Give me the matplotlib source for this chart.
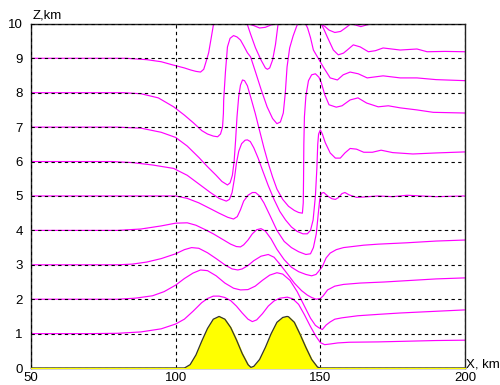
import matplotlib
matplotlib.use("Agg")
import matplotlib.pyplot as plt

plt.rcParams['font.family'] = ['Liberation Sans', 'DejaVu Sans']

# terrain: two ridges
hill_x = [50, 100, 103, 105, 107, 109, 111, 113, 115, 117, 119, 121, 123, 125, 126,
          127, 129, 131, 133, 135, 137, 138.5, 139, 141, 143, 145, 147, 149, 150, 200]
hill_z = [0, 0, 0.0, 0.1, 0.38, 0.78, 1.15, 1.42, 1.5, 1.42, 1.18, 0.82, 0.42, 0.1, 0.02,
          0.05, 0.25, 0.6, 1.0, 1.33, 1.47, 1.5, 1.49, 1.33, 0.98, 0.6, 0.25, 0.03, 0, 0]

# streamlines (x in km, z in km)
line1_x = [50, 70, 80, 88, 95, 100, 103, 106, 109, 111, 113, 115, 117, 119, 121, 123, 125,
           126.5, 128, 130, 132, 134, 136, 138.6, 140.5, 142.5, 144.5, 146.5, 148.5, 150,
           151.5, 153.5, 156, 160, 170, 180, 190, 200]
line1_z = [1.0, 1.0, 1.01, 1.05, 1.14, 1.28, 1.42, 1.65, 1.9, 2.02, 2.09, 2.09, 2.05, 1.96,
           1.8, 1.6, 1.42, 1.35, 1.4, 1.58, 1.8, 1.95, 2.03, 2.06, 2.01, 1.85, 1.55, 1.22,
           0.92, 0.74, 0.68, 0.7, 0.73, 0.75, 0.76, 0.78, 0.8, 0.81]

line2_x = [50, 80, 86, 92, 96, 100, 103, 106, 108.6, 111, 114, 117, 120, 122.4, 125, 127.5,
           130, 132.5, 135, 137, 139.5, 142, 144.5, 146.6, 148.3, 149.5, 150.7, 152, 153.4,
           155, 157.5, 163, 170, 177.6, 190, 200]
line2_z = [2.0, 2.0, 2.03, 2.1, 2.22, 2.41, 2.6, 2.76, 2.85, 2.83, 2.68, 2.47, 2.32, 2.27,
           2.28, 2.38, 2.55, 2.7, 2.77, 2.73, 2.55, 2.22, 1.8, 1.45, 1.24, 1.17, 1.12, 1.25,
           1.34, 1.42, 1.46, 1.52, 1.56, 1.6, 1.65, 1.69]

line3_x = [50, 80, 85, 90, 95, 100, 103, 105.5, 108, 111, 114, 117, 119.5, 121.5, 123, 125,
           127, 129.5, 132, 134, 136, 138.5, 141, 143.5, 145.5, 147, 148.5, 150, 151, 152.5,
           155, 158, 163.8, 172, 182, 190, 200]
line3_z = [3.0, 3.0, 3.02, 3.08, 3.18, 3.32, 3.44, 3.5, 3.48, 3.35, 3.18, 3.0, 2.88, 2.85,
           2.88, 2.98, 3.12, 3.25, 3.3, 3.22, 3.02, 2.75, 2.47, 2.25, 2.12, 2.05, 2.0, 2.02,
           2.1, 2.27, 2.38, 2.43, 2.47, 2.5, 2.55, 2.59, 2.62]

line4_x = [50, 80, 88, 95, 100, 104, 107, 110, 113, 116, 119, 121, 122.4, 123.5, 125, 126.5,
           128, 129.5, 131, 133, 135, 137.5, 140, 142.5, 145, 147, 148.5, 149.5, 150.7, 152,
           153.4, 155.5, 158, 161, 165, 170, 175, 180, 190, 200]
line4_z = [4.0, 4.0, 4.04, 4.13, 4.21, 4.22, 4.15, 4.03, 3.9, 3.75, 3.6, 3.53, 3.52, 3.58,
           3.72, 3.9, 4.02, 4.05, 3.98, 3.75, 3.45, 3.15, 2.93, 2.8, 2.72, 2.68, 2.72, 2.82,
           2.95, 3.2, 3.34, 3.44, 3.5, 3.53, 3.57, 3.6, 3.62, 3.64, 3.69, 3.72]

line5_x = [50, 100, 104, 108, 112, 115, 118, 120, 121.3, 122.4, 123.5, 125, 126.5, 127.6,
           129, 130.5, 132.5, 135, 137.5, 140, 142.5, 145, 146.6, 147.6, 148.6, 149.3, 149.8,
           150.4, 151.2, 152.5, 154, 155.2, 156.2, 157.5, 158.5, 160, 162.5, 165, 170, 175,
           180, 185, 190, 200]
line5_z = [5.0, 5.0, 4.93, 4.8, 4.63, 4.5, 4.38, 4.33, 4.4, 4.6, 4.85, 5.02, 5.1, 5.1, 5.0,
           4.8, 4.45, 4.0, 3.68, 3.5, 3.38, 3.3, 3.32, 3.5, 3.9, 4.5, 4.9, 5.08, 5.1, 5.0,
           4.92, 4.9, 4.95, 5.07, 5.1, 5.03, 4.96, 4.97, 5.0, 4.98, 5.02, 5.0, 4.98, 5.0]

line6_x = [50, 78, 85, 92, 99.3, 104, 108, 112, 115, 117.5, 118.6, 119.5, 120.3, 121, 121.8,
           122.8, 124, 124.8, 125.8, 127, 128.5, 130, 132, 134, 136, 138, 140, 142, 144,
           145.5, 146.6, 147.5, 148.3, 148.8, 149.1, 149.4, 150, 150.7, 151.7, 153.4, 155.2,
           156.9, 158.5, 160.3, 162.5, 165, 168, 171, 175, 182, 190, 200]
line6_z = [6.0, 6.0, 5.97, 5.9, 5.8, 5.6, 5.35, 5.1, 4.93, 4.85, 4.9, 5.1, 5.5, 5.95, 6.3,
           6.52, 6.62, 6.63, 6.58, 6.4, 6.1, 5.75, 5.3, 4.9, 4.55, 4.3, 4.1, 3.97, 3.9, 3.9,
           4.0, 4.3, 5.0, 5.8, 6.5, 6.8, 6.92, 6.8, 6.55, 6.25, 6.1, 6.1, 6.25, 6.38, 6.36,
           6.27, 6.27, 6.33, 6.26, 6.22, 6.25, 6.28]

line7_x = [50, 80, 88, 95, 100, 104, 108, 111, 114, 116, 117.9, 118.8, 119.6, 120.2, 120.7,
           121.2, 121.8, 122.4, 123.1, 123.8, 124.8, 126, 127.5, 129, 130.5, 132, 133.5, 135,
           137, 139, 141, 142.5, 143.8, 144.1, 144.2, 144.3, 144.5, 145, 145.9, 147, 148.3,
           149.5, 150.3, 151.5, 153, 155.5, 157.5, 160.3, 163, 166, 170, 173.5, 177.6, 183.4,
           189, 200]
line7_z = [7.0, 7.0, 6.97, 6.85, 6.7, 6.45, 6.12, 5.85, 5.6, 5.42, 5.32, 5.38, 5.6, 6.0, 6.6,
           7.3, 7.9, 8.22, 8.37, 8.35, 8.2, 7.85, 7.4, 6.9, 6.4, 5.95, 5.55, 5.2, 4.9, 4.7,
           4.58, 4.52, 4.5, 4.8, 5.5, 6.5, 7.3, 7.9, 8.35, 8.52, 8.55, 8.45, 8.3, 7.95, 7.65,
           7.58, 7.62, 7.79, 7.85, 7.7, 7.59, 7.62, 7.56, 7.5, 7.43, 7.41]

line8_x = [50, 82, 88, 94, 99.3, 103, 106.2, 109, 111, 113, 114.5, 115.5, 116.2, 116.5, 116.6,
           117.2, 117.9, 118.8, 120, 121.2, 122.4, 123.6, 124.8, 125.9, 127.6, 129.5, 131.6,
           133.5, 135, 136.2, 137.2, 137.9, 138.5, 139.4, 140.6, 141.9, 143.3, 144.6, 145.6,
           146.6, 147.6, 149.0, 151.0, 153.4, 155.9, 157.9, 160.3, 163.1, 166.2, 171.7, 177.6,
           183.4, 190, 200]
line8_z = [8.0, 8.0, 7.97, 7.85, 7.59, 7.35, 7.12, 6.9, 6.8, 6.74, 6.72, 6.8, 7.0, 7.4, 7.8,
           8.6, 9.33, 9.58, 9.66, 9.62, 9.53, 9.35, 9.16, 9.04, 8.6, 8.1, 7.59, 7.25, 7.1,
           7.15, 7.41, 8.0, 8.75, 9.3, 9.65, 9.95, 10.12, 10.05, 9.88, 9.6, 9.24, 9.04, 8.75,
           8.43, 8.37, 8.52, 8.6, 8.55, 8.43, 8.49, 8.43, 8.43, 8.38, 8.35]

line9_x = [50, 70, 83, 90, 95, 99.3, 103, 105.2, 107, 108.6, 109.7, 110.5, 111.4, 112.3, 113.1,
           113.8, 118, 122, 124.5, 125.9, 127.6, 129.5, 131, 131.7, 132.5, 133.5, 134.5, 135.4,
           136.5, 142, 148, 150.3, 151.2, 152.4, 154.5, 156.2, 158, 159.3, 161.4, 163.8, 166.6,
           169, 171.7, 177.6, 183.4, 186.9, 193, 200]
line9_z = [9.0, 9.0, 9.0, 8.96, 8.9, 8.8, 8.72, 8.66, 8.62, 8.6, 8.68, 8.9, 9.16, 9.6, 10.0,
           10.3, 10.7, 10.5, 10.05, 9.7, 9.3, 8.95, 8.72, 8.68, 8.72, 8.95, 9.4, 10.0, 10.5,
           10.9, 10.6, 10.0, 9.85, 9.62, 9.24, 9.1, 9.15, 9.24, 9.39, 9.33, 9.19, 9.22, 9.3,
           9.24, 9.27, 9.19, 9.2, 9.19]

line10_x = [50, 125, 127, 129, 131, 133, 135, 150, 151.5, 153, 155, 157, 159, 160.5, 162, 164,
            166, 168, 200]
line10_z = [10.0, 10.0, 9.95, 9.88, 9.9, 9.97, 10.0, 10.0, 9.93, 9.82, 9.75, 9.78, 9.9, 10.0,
            9.97, 9.92, 9.97, 10.0, 10.0]

lines = [(line1_x, line1_z), (line2_x, line2_z), (line3_x, line3_z), (line4_x, line4_z),
         (line5_x, line5_z), (line6_x, line6_z), (line7_x, line7_z), (line8_x, line8_z),
         (line9_x, line9_z), (line10_x, line10_z)]

x_ticks = [50, 100, 150, 200]
z_ticks = [0, 1, 2, 3, 4, 5, 6, 7, 8, 9, 10]

fig = plt.figure(figsize=(5.0, 3.85), dpi=100)
ax = fig.add_axes([0.062, 0.044, 0.868, 0.894])

for xs, zs in lines:
    ax.plot(xs, zs, color='#ff00ff', lw=0.85, zorder=2)

ax.fill_between(hill_x, hill_z, 0, color='#ffff00', zorder=3)
ax.plot(hill_x, hill_z, color='#333333', lw=0.9, zorder=4)

ax.set_xlim(50, 200)
ax.set_ylim(0, 10)
ax.set_xticks(x_ticks)
ax.set_yticks(z_ticks)
ax.tick_params(axis='x', length=0, labelsize=9.5, pad=3)
ax.tick_params(axis='y', length=0, labelsize=9.5, pad=6)
ax.grid(True, color='black', linestyle=(0, (3, 3)), lw=0.8)
ax.set_axisbelow(False)
for sp in ax.spines.values():
    sp.set_color('#222222')
    sp.set_linewidth(1.0)

fig.text(0.066, 0.945, 'Z,km', fontsize=9.5, ha='left', va='bottom')
fig.text(0.933, 0.037, 'X, km', fontsize=9.5, ha='left', va='bottom')

fig.savefig('out.png', dpi=100)
